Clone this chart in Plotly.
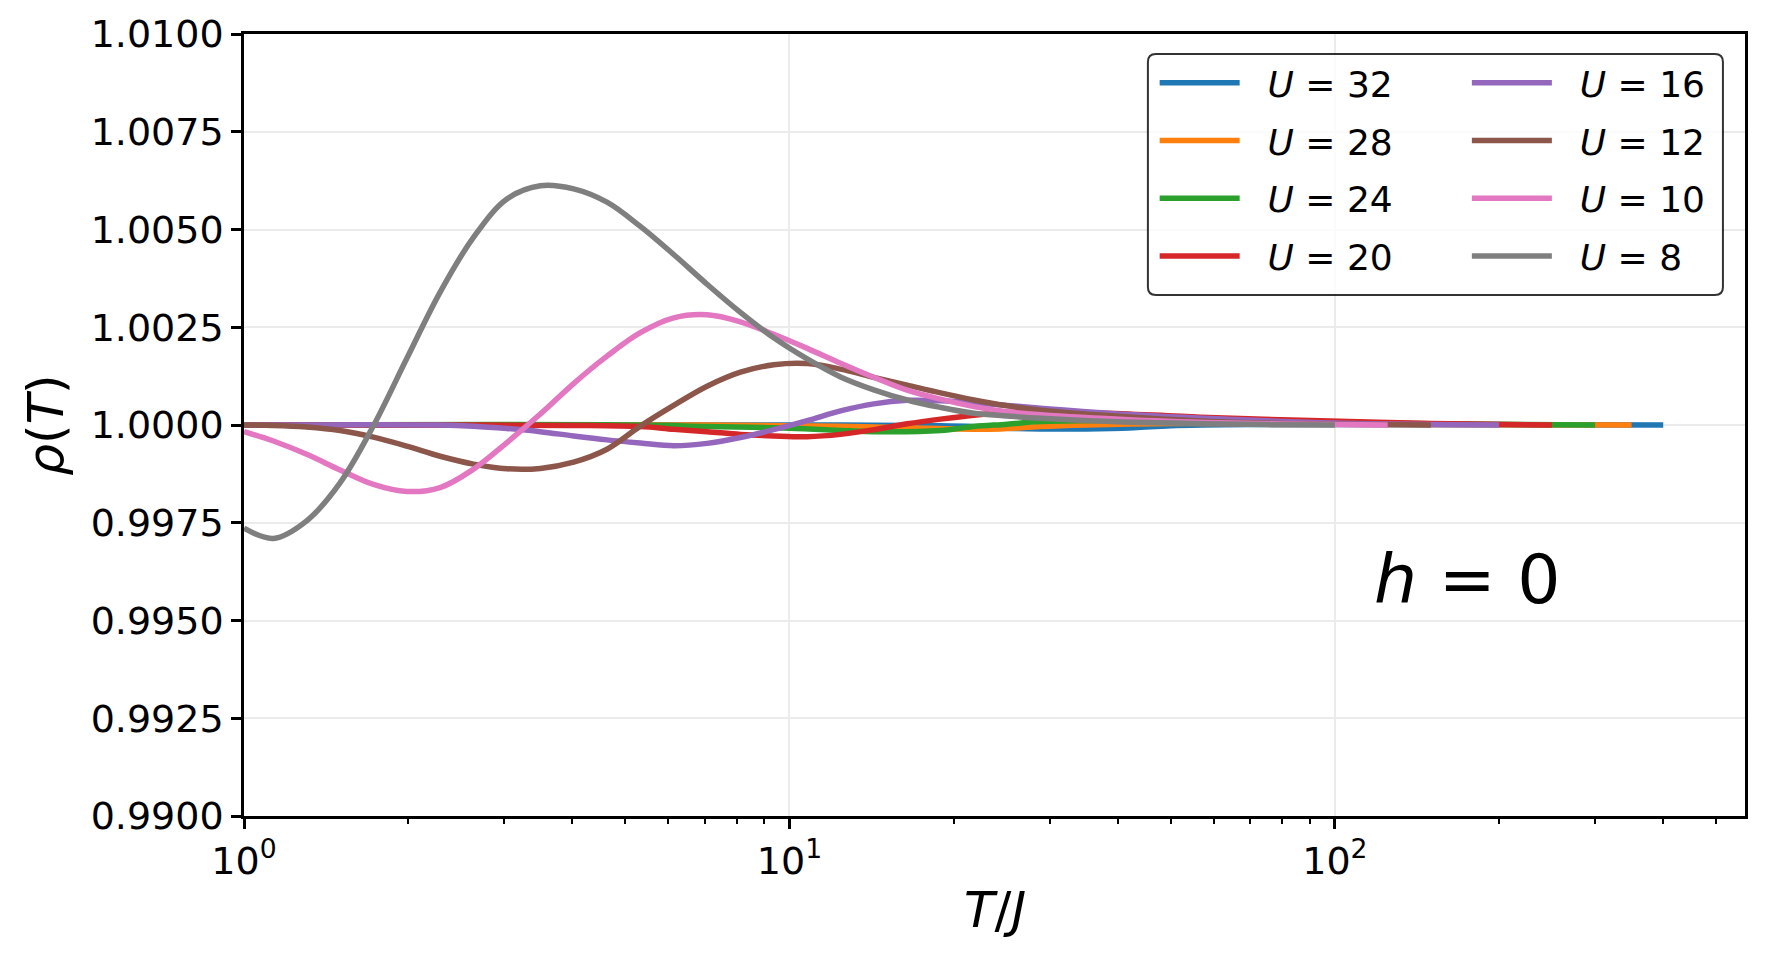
import plotly.graph_objects as go

# interaction strengths, legend order = trace order
U_values = [32, 28, 24, 20, 16, 12, 10, 8]
colors = ["#1f77b4", "#ff7f0e", "#2ca02c", "#d62728",
          "#9467bd", "#8c564b", "#e377c2", "#7f7f7f"]

# rho(T), T/J on a log axis
T_u32 = [1.0, 12.41, 18.93, 21.79, 25.08, 28.88, 35.0, 42.8, 50.0, 70.0, 120.0, 400.0]
rho_u32 = [1.0, 1.0, 0.99998, 0.99996, 0.99992, 0.9999, 0.9999, 0.99993, 0.99998, 1.00001, 1.00001, 1.0]

T_u28 = [1.0, 7.06, 12.41, 16.44, 21.79, 24.4, 28.88, 35.0, 50.0, 80.0, 150.0, 350.0]
rho_u28 = [1.0, 1.0, 0.99997, 0.99993, 0.99989, 0.9999, 0.99996, 1.0, 1.00004, 1.00004, 1.00001, 1.0]

T_u24 = [1.0, 5.33, 7.06, 10.0, 14.28, 18.93, 21.79, 25.08, 28.88, 40.0, 60.0, 90.0, 150.0, 300.0]
rho_u24 = [1.0, 1.0, 0.99996, 0.99992, 0.99983, 0.99986, 0.99996, 1.00002, 1.00009, 1.00012, 1.00012, 1.00008, 1.00003, 1.0]

T_u20 = [1.0, 2.635, 4.021, 5.329, 6.135, 7.063, 8.131, 9.36, 10.78, 12.41, 14.28, 16.44, 18.93, 21.79, 25.08, 28.88,
         37.2, 56.7, 86.8, 150.0, 250.0]
rho_u20 = [1.0, 1.0, 0.99999, 0.99996, 0.99989, 0.99983, 0.99976, 0.99972, 0.9997, 0.99976, 0.99988, 1.00003,
           1.00015, 1.00025, 1.00032, 1.00034, 1.00031, 1.0002, 1.00012, 1.00004, 1.0]

T_u16 = [1.0, 2.289, 2.635, 3.034, 3.493, 4.021, 4.629, 5.329, 6.135, 7.063, 8.131, 9.36, 10.78, 12.41, 14.28,
         16.44, 18.93, 21.79, 25.08, 28.88, 42.8, 65.0, 100.0, 200.0]
rho_u16 = [1.0, 1.0, 0.99997, 0.99991, 0.99983, 0.99972, 0.99962, 0.99954, 0.99947, 0.99953, 0.99968, 0.99988,
           1.00011, 1.00036, 1.00054, 1.00063, 1.00062, 1.00057, 1.0005, 1.00043, 1.00026, 1.00014, 1.00005, 1.0]

T_u12 = [1.0, 1.132, 1.303, 1.5, 1.727, 1.988, 2.289, 2.635, 3.034, 3.493, 4.021, 4.629, 5.329, 6.135, 7.063,
         8.131, 9.36, 10.78, 12.41, 14.28, 16.44, 18.93, 21.79, 25.08, 28.88, 42.8, 65.0, 100.0, 150.0]
rho_u12 = [1.0, 0.99999, 0.99995, 0.99986, 0.99969, 0.99946, 0.9992, 0.999, 0.99888, 0.99889, 0.99905, 0.99938,
           0.99997, 1.0005, 1.00099, 1.00135, 1.00154, 1.00157, 1.00143, 1.00122, 1.00102, 1.00082, 1.00064,
           1.00049, 1.00038, 1.0002, 1.00007, 1.00002, 1.0]

T_u10 = [1.0, 1.132, 1.303, 1.5, 1.727, 1.988, 2.289, 2.635, 3.034, 3.493, 4.021, 4.629, 5.329, 6.135, 7.063,
         8.131, 9.36, 10.78, 12.41, 14.28, 16.44, 18.93, 21.79, 25.08, 28.88, 42.8, 65.0, 90.0, 125.0]
rho_u10 = [0.99983, 0.99959, 0.99925, 0.99885, 0.99848, 0.9983, 0.9984, 0.99887, 0.99955, 1.00028, 1.00106,
           1.00176, 1.00236, 1.00274, 1.00282, 1.00264, 1.00232, 1.00196, 1.00158, 1.00122, 1.00089, 1.00066,
           1.00047, 1.00034, 1.00026, 1.00013, 1.00005, 1.00002, 1.0]

T_u8 = [1.0, 1.132, 1.303, 1.5, 1.727, 1.988, 2.289, 2.635, 3.034, 3.493, 4.021, 4.629, 5.329, 6.135, 7.063,
        8.131, 9.36, 10.78, 12.41, 14.28, 16.44, 18.93, 21.79, 25.08, 28.88, 40.0, 55.0, 75.0, 100.0]
rho_u8 = [0.99736, 0.9971, 0.99755, 0.99852, 0.99998, 1.0017, 1.0034, 1.0048, 1.00578, 1.00612, 1.00604, 1.0057,
          1.00508, 1.00436, 1.0036, 1.00288, 1.00223, 1.00169, 1.00123, 1.0009, 1.00064, 1.00045, 1.0003,
          1.00023, 1.00017, 1.00008, 1.00004, 1.00001, 1.0]

T_series = [T_u32, T_u28, T_u24, T_u20, T_u16, T_u12, T_u10, T_u8]
rho_series = [rho_u32, rho_u28, rho_u24, rho_u20, rho_u16, rho_u12, rho_u10, rho_u8]

y_ticks = [0.99, 0.9925, 0.995, 0.9975, 1.0, 1.0025, 1.005, 1.0075, 1.01]
x_ticks = [1, 10, 100]
x_ticktext = ["10<sup>0</sup>", "10<sup>1</sup>", "10<sup>2</sup>"]
x_minor = [2, 3, 4, 5, 6, 7, 8, 9, 20, 30, 40, 50, 60, 70, 80, 90, 200, 300, 400, 500]

FONT = "DejaVu Sans"

fig = go.Figure()

for i, (U, T, rho) in enumerate(zip(U_values, T_series, rho_series)):
    fig.add_trace(go.Scatter(
        x=T,
        y=rho,
        mode="lines",
        name=f"\u00a0\u00a0<i>U</i> = {U}",
        line=dict(color=colors[i], width=5.5, shape="spline", smoothing=1.0),
        legend="legend" if i < 4 else "legend2",
        legendgroup=str(U),
    ))

legend_style = dict(
    bgcolor="rgba(0,0,0,0)",
    borderwidth=0,
    font=dict(family=FONT, size=36, color="black"),
    itemwidth=80,
    tracegroupgap=8,
    xanchor="left",
    yanchor="top",
)

fig.update_layout(
    width=1767,
    height=961,
    template="none",
    paper_bgcolor="white",
    plot_bgcolor="white",
    margin=dict(l=236, r=30, t=26, b=153),
    font=dict(family=FONT, size=38, color="black"),
    legend=dict(x=0.6067, y=0.976, **legend_style),
    legend2=dict(x=0.8147, y=0.976, **legend_style),
)

fig.update_xaxes(
    type="log",
    range=[0, 2.752],
    tickvals=x_ticks,
    ticktext=x_ticktext,
    ticks="outside",
    ticklen=10,
    tickwidth=2.5,
    tickcolor="black",
    tickfont=dict(family=FONT, size=38, color="black"),
    showline=True,
    linecolor="black",
    linewidth=2.5,
    mirror=True,
    showgrid=True,
    gridcolor="#ebebeb",
    gridwidth=1.5,
    zeroline=False,
    minor=dict(tickvals=x_minor, ticks="outside", ticklen=5.5, tickwidth=1.5,
               tickcolor="black", showgrid=False),
)

fig.update_yaxes(
    range=[0.99, 1.01],
    tickvals=y_ticks,
    tickformat=".4f",
    ticks="outside",
    ticklen=10,
    tickwidth=2.5,
    tickcolor="black",
    tickfont=dict(family=FONT, size=38, color="black"),
    showline=True,
    linecolor="black",
    linewidth=2.5,
    mirror=True,
    showgrid=True,
    gridcolor="#ebebeb",
    gridwidth=1.5,
    zeroline=False,
)

# rounded legend frame (paper coords)
x0, x1, y0, y1 = 0.6022, 0.9853, 0.6662, 0.9744
rx, ry = 0.0053, 0.0102
frame = (f"M {x0 + rx},{y1} L {x1 - rx},{y1} Q {x1},{y1} {x1},{y1 - ry} "
         f"L {x1},{y0 + ry} Q {x1},{y0} {x1 - rx},{y0} "
         f"L {x0 + rx},{y0} Q {x0},{y0} {x0},{y0 + ry} "
         f"L {x0},{y1 - ry} Q {x0},{y1} {x0 + rx},{y1} Z")
fig.add_shape(type="path", path=frame, xref="paper", yref="paper",
              fillcolor="rgba(255,255,255,0.8)",
              line=dict(color="rgba(0,0,0,0.8)", width=2), layer="above")

fig.add_annotation(text="<i>h</i> = 0", x=0.815, y=0.302, xref="paper", yref="paper",
                   showarrow=False, xanchor="center", yanchor="middle",
                   font=dict(family=FONT, size=68, color="black"))
fig.add_annotation(text="<i>T</i>/<i>J</i>", x=0.5, y=-0.1197, xref="paper", yref="paper",
                   showarrow=False, xanchor="center", yanchor="middle",
                   font=dict(family=FONT, size=50, color="black"))
fig.add_annotation(text="<i>ρ</i>(<i>T</i>)", x=-0.132, y=0.5, xref="paper", yref="paper",
                   showarrow=False, xanchor="center", yanchor="middle", textangle=-90,
                   font=dict(family=FONT, size=50, color="black"))

fig.write_html("out.html")
